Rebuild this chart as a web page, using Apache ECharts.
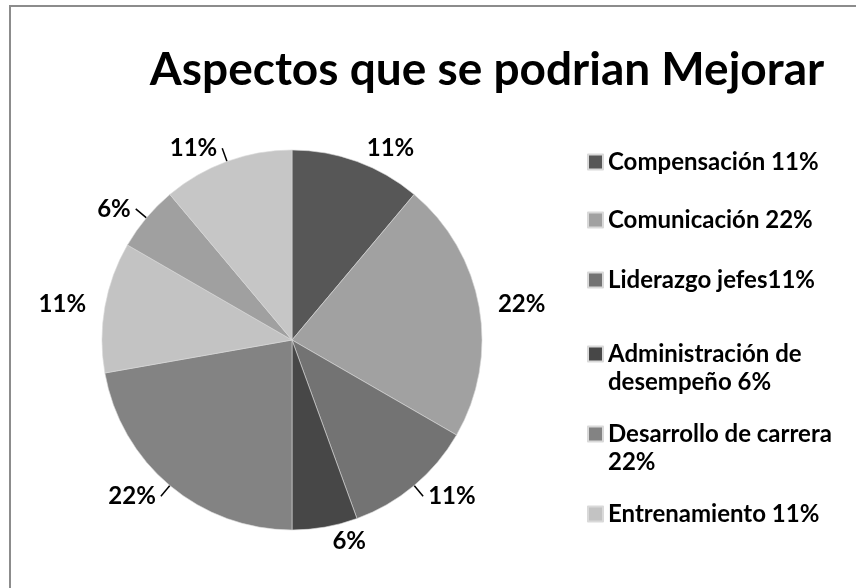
<!DOCTYPE html>
<html>
<head>
<meta charset="utf-8">
<script src="https://cdn.jsdelivr.net/npm/echarts@6/dist/echarts.min.js"></script>
<style>
  html, body { margin: 0; padding: 0; background: #fff; }
  #chart { width: 856px; height: 588px; }
</style>
</head>
<body>
<div id="chart"></div>
<script>
  // categorías (las dos últimas no aparecen en la leyenda)
  const categories = [
    "Compensación 11%",
    "Comunicación 22%",
    "Liderazgo jefes11%",
    "Administración de desempeño 6%",
    "Desarrollo de carrera 22%",
    "Entrenamiento 11%",
    "Ambiente laboral 6%",
    "Reconocimiento 11%",
  ];
  // respuestas (18 en total)
  const counts = [2, 4, 2, 1, 4, 2, 1, 2];
  const colors = ["#575757", "#a1a1a1", "#737373", "#474747", "#838383", "#c3c3c3", "#a0a0a0", "#c6c6c6"];
  // qué etiquetas llevan línea guía
  const withLine = [false, false, true, false, true, false, true, true];

  const font = "Lato";
  let myChart = echarts.init(document.getElementById("chart"));

  //leyenda: un bloque por elemento para repartirlos como en el original
  const legendTops = [148, 206, 266, 312, 392, 500];
  //los textos largos van en dos renglones; la línea vacía de arriba deja el cuadro junto al primero
  function wrap(n) {
    if (n.indexOf("de desempeño") > -1) return "\n" + n.replace("de desempeño", "de\ndesempeño");
    if (n.indexOf("carrera ") > -1) return "\n" + n.replace("carrera ", "carrera\n");
    return n;
  }
  let legends = categories.slice(0, 6).map((name, i) => ({
    data: [name],
    orient: "vertical",
    left: 587,
    top: legendTops[i],
    padding: 0,
    itemWidth: 15,
    itemHeight: 15,
    icon: "rect",
    formatter: wrap,
    textStyle: {
      fontFamily: font,
      fontWeight: "bold",
      fontSize: 24,
      lineHeight: 28,
      color: "#000",
    },
  }));

  let option = {
    animation: false,
    color: colors,
    title: {
      text: "Aspectos que se podrian Mejorar",
      left: 482,
      top: 42,
      textAlign: "center",
      textStyle: {
        fontFamily: font,
        fontWeight: "bold",
        fontSize: 46,
        color: "#000",
      },
    },
    graphic: [
      {
        type: "rect",
        shape: { x: 10, y: 6, width: 900, height: 700 },
        style: { fill: "none", stroke: "#8c8c8c", lineWidth: 2 },
        silent: true,
      },
    ],
    legend: legends,
    series: [
      {
        type: "pie",
        center: [292, 340],
        radius: 190,
        startAngle: 90,
        clockwise: true,
        itemStyle: {
          borderColor: "#d9d9d9",
          borderWidth: 0.6,
        },
        label: {
          show: true,
          position: "outside",
          formatter: (p) => Math.round(p.percent) + "%",
          fontFamily: font,
          fontWeight: "bold",
          fontSize: 24,
          color: "#000",
        },
        labelLine: {
          length: 14,
          length2: 0,
          lineStyle: { color: "#000", width: 1.5 },
        },
        data: categories.map((name, i) => ({
          name: name,
          value: counts[i],
          labelLine: { show: withLine[i] },
        })),
      },
    ],
  };
  myChart.setOption(option);
</script>
</body>
</html>
